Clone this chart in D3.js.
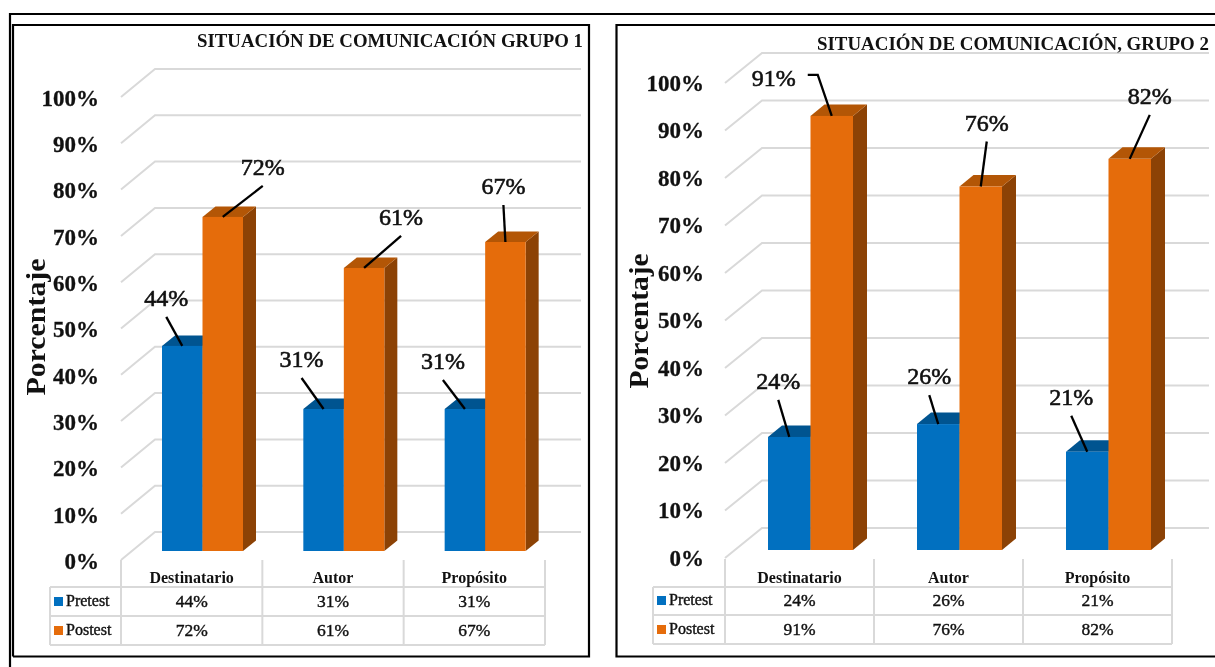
<!DOCTYPE html>
<html><head><meta charset="utf-8">
<script src="https://cdn.jsdelivr.net/npm/d3@7/dist/d3.min.js"></script>
<style>
html,body{margin:0;padding:0;background:#fff;overflow:hidden}
svg{display:block;filter:blur(.4px)}
text{font-family:"Liberation Serif",serif;fill:#111}
</style></head><body>
<svg id="c" width="1215" height="667"></svg>
<script>
const categories = ["Destinatario", "Autor", "Propósito"];
const seriesNames = ["Pretest", "Postest"];
const tickValues = [0,10,20,30,40,50,60,70,80,90,100];
const pretest1 = [44.2, 30.6, 30.6];
const postest1 = [72, 61, 66.6];
const pretest2 = [23.7, 26.4, 20.6];
const postest2 = [91, 76.2, 82];
const title1 = "SITUACIÓN DE COMUNICACIÓN GRUPO 1";
const title2 = "SITUACIÓN DE COMUNICACIÓN, GRUPO 2";
const colors = {front:["#0170c0","#e56c0b"], top:["#005490","#b35606"], side:["#00406e","#8c4205"]};
const pct = v => Math.round(v)+"%";

// layout only
const panels = [
 {title:title1, pre:pretest1, post:postest1, frontX:121, backX:155, backEnd:581, y0:560, y100:97, backDy:-28,
  barBase:551, barTop:[0,4.64], barStart:162, barW:40.5, step:141.33, depth:[13,-10.5], tableL:50, tableR:545,
  rows:[560,587,616,645], tickX:99, tickDy:1, titleX:197, titleY:47, titleLen:386,
  yTitleX:45, yTitleY:327, yTitleLen:137,
  labels:[[[ -16,-48,null],[40,-50,null]],[[-22,-50,null],[37,-51,null]],[[-22,-48,null],[-2,-56,null]]]},
 {title:title2, pre:pretest2, post:postest2, frontX:725, backX:762, backEnd:1209, y0:558, y100:83, backDy:-30,
  barBase:550, barTop:[0,4.77], barStart:768, barW:42.5, step:149, depth:[14,-11.5], tableL:653, tableR:1172,
  rows:[559,587,615,644], tickX:704, tickDy:0, titleX:817, titleY:50, titleLen:392,
  yTitleX:648, yTitleY:321, yTitleLen:135,
  labels:[[[ -11,-56,null],[-58,-38,true]],[[-9,-48,null],[6,-64,null]],[[-16,-55,null],[20,-63,null]]]}
];

const svg = d3.select("#c");
// outer frames
const frame = svg.append("g").attr("fill","none").attr("stroke","#000").attr("stroke-width",2.2);
frame.append("path").attr("d",d3.line()([[10,667],[10,14],[1215,14]]));
frame.append("path").attr("d",d3.line()([[13,656.5],[13,25],[589,25],[589,656.5],[13,656.5]]));
frame.append("path").attr("d",d3.line()([[1215,25],[616.5,25],[616.5,656.5],[1215,656.5]]));

panels.forEach(p=>{
  const g = svg.append("g");
  const y = d3.scaleLinear().domain([0,100]).range([p.y0,p.y100]);
  const grid = g.append("g").attr("stroke","#d9d9d9").attr("stroke-width",2).attr("fill","none");
  grid.selectAll("path").data(tickValues).join("path")
    .attr("d",d=>d3.line()([[p.frontX,y(d)],[p.backX,y(d)+p.backDy],[p.backEnd,y(d)+p.backDy]]));

  // axis tick labels
  const axis = d3.axisLeft(y).tickValues(tickValues).tickFormat(d=>d+"%").tickSize(0).tickPadding(0);
  const ax = g.append("g").attr("transform",`translate(${p.tickX},${p.tickDy})`).call(axis);
  ax.select(".domain").remove();
  ax.selectAll("text").style("font-family",'"Liberation Serif",serif').style("font-size","23px").style("font-weight","bold").attr("fill","#111").attr("stroke","#111").attr("stroke-width",.3);

  // title
  g.append("text").attr("x",p.titleX).attr("y",p.titleY).attr("font-size",18).attr("font-weight","bold")
    .attr("textLength",p.titleLen).attr("lengthAdjust","spacingAndGlyphs").text(p.title);
  g.append("text").attr("transform",`translate(${p.yTitleX},${p.yTitleY}) rotate(-90)`).attr("text-anchor","middle")
    .attr("font-size",28).attr("font-weight","bold").attr("textLength",p.yTitleLen).attr("lengthAdjust","spacingAndGlyphs").text("Porcentaje");

  // bars
  const xG = d3.scaleBand().domain(categories).range([p.barStart,p.barStart+p.step*3]).paddingInner(0).paddingOuter(0).align(0);
  const xS = d3.scaleBand().domain(seriesNames).range([0,p.barW*2]);
  const yBar = d3.scaleLinear().domain([0,100]).range([p.barBase,p.barBase-p.barTop[1]*100]);
  const [ddx,ddy] = p.depth;
  const vals = [p.pre,p.post];
  const labelLayer = [];
  categories.forEach((c,ci)=>{
    seriesNames.forEach((s,si)=>{
      const v = vals[si][ci], x0 = xG(c)+xS(s), x1 = x0+xS.bandwidth(), t = yBar(v), b = yBar(0);
      const bg = g.append("g");
      bg.append("path").attr("fill",colors.side[si]).attr("d",d3.line()([[x1,t],[x1+ddx,t+ddy],[x1+ddx,b+ddy],[x1,b]]));
      bg.append("path").attr("fill",colors.top[si]).attr("d",d3.line()([[x0,t],[x0+ddx,t+ddy],[x1+ddx,t+ddy],[x1,t]]));
      bg.append("rect").attr("x",x0).attr("y",t).attr("width",x1-x0).attr("height",b-t).attr("fill",colors.front[si]);
      labelLayer.push({v,cx:(x0+x1)/2,t,l:p.labels[ci][si]});
    });
  });
  // data labels + leaders
  labelLayer.forEach(d=>{
    const [dx,dy,elbow]=d.l;
    const lx=d.cx+dx, ly=d.t+dy;
    let pts;
    if(elbow){ pts=[[d.cx,d.t],[d.cx-14,d.t-41],[d.cx-24,d.t-41]]; }
    else { pts=[[d.cx,d.t],[lx,ly+19]]; }
    g.append("path").attr("fill","none").attr("stroke","#000").attr("stroke-width",2.3).attr("d",d3.line()(pts));
    g.append("text").attr("x",lx).attr("y",ly+8).attr("text-anchor","middle").attr("font-size",24)
      .attr("stroke","#111").attr("stroke-width",.6).text(pct(d.v));
  });

  // data table
  const colX = d3.scaleBand().domain(categories).range([p.frontX,p.tableR]);
  const tb = g.append("g").attr("stroke","#d9d9d9").attr("stroke-width",2).attr("fill","none");
  [p.rows[1],p.rows[2],p.rows[3]].forEach(r=>tb.append("line").attr("x1",p.tableL).attr("x2",p.tableR).attr("y1",r).attr("y2",r));
  tb.append("line").attr("x1",p.tableL).attr("x2",p.tableL).attr("y1",p.rows[1]).attr("y2",p.rows[3]);
  [p.frontX,...categories.map(c=>colX(c)+colX.bandwidth())].forEach(x=>tb.append("line").attr("x1",x).attr("x2",x).attr("y1",p.rows[0]).attr("y2",p.rows[3]));
  categories.forEach((c,i)=>{
    const cx=colX(c)+colX.bandwidth()/2;
    g.append("text").attr("x",cx).attr("y",p.rows[1]-4).attr("text-anchor","middle").attr("font-size",16).attr("font-weight","bold").text(c);
    vals.forEach((arr,si)=>{
      g.append("text").attr("x",cx).attr("y",p.rows[si+2]-9).attr("text-anchor","middle").attr("font-size",17.5).attr("stroke","#111").attr("stroke-width",.4).text(pct(arr[i]));
    });
  });
  seriesNames.forEach((s,si)=>{
    g.append("rect").attr("x",p.tableL+4).attr("y",p.rows[si+2]-19).attr("width",9).attr("height",9).attr("fill",colors.front[si]);
    g.append("text").attr("x",p.tableL+16).attr("y",p.rows[si+2]-10).attr("font-size",16).attr("stroke","#111").attr("stroke-width",.4).text(s);
  });
});
</script>
</body></html>
